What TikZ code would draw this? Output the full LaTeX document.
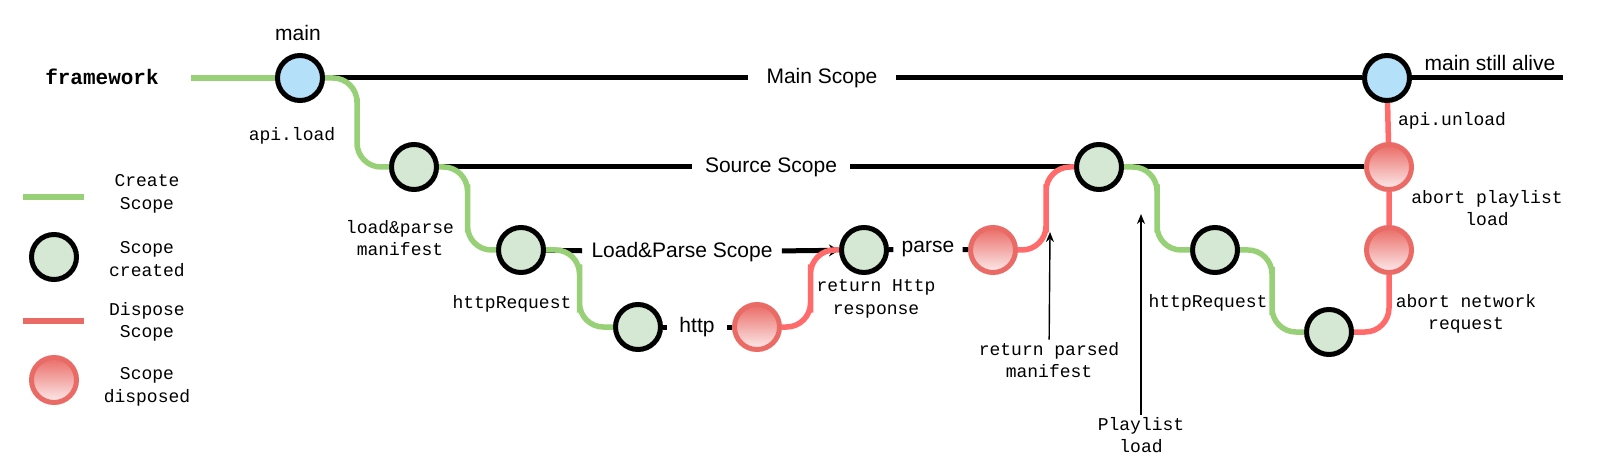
\documentclass[tikz,border=0pt]{standalone}
\usepackage{fontspec}
\setsansfont{Liberation Sans}
\setmonofont{Liberation Mono}
\usetikzlibrary{arrows.meta,calc}

\definecolor{mainblue}{HTML}{B5E0FA}
\definecolor{scopegreen}{HTML}{D5E8D4}
\definecolor{creategreen}{HTML}{97D077}
\definecolor{disposered}{HTML}{FF6B6B}
\definecolor{ringred}{HTML}{EA6B66}
\definecolor{fadered}{HTML}{FCECEC}

\tikzset{
  scopenode/.style={circle, draw=black, line width=2.5pt, minimum size=22.5pt, inner sep=0pt},
  mainnode/.style={scopenode, fill=mainblue},
  childnode/.style={scopenode, fill=scopegreen},
  disposednode/.style={circle, draw=ringred, line width=2.5pt, minimum size=22.5pt, inner sep=0pt,
    top color=ringred, bottom color=fadered},
  scopeline/.style={line width=2.5pt, black},
  createline/.style={line width=2.75pt, creategreen, rounded corners=12pt},
  disposeline/.style={line width=2.75pt, disposered, rounded corners=12pt},
  pointer/.style={line width=0.7pt, -{Stealth[length=5pt,width=4pt]}},
  scopelabel/.style={font=\sffamily\fontsize{10.5}{12.5}\selectfont, inner xsep=4.5pt},
  codelabel/.style={font=\ttfamily\fontsize{9}{11.3}\selectfont, align=center, inner sep=1pt}
}

\begin{document}
\begin{tikzpicture}[x=0.5pt, y=-0.5pt]
\useasboundingbox (0,0) rectangle (1600,470);

% scope nodes
\node[mainnode] (main) at (300,78) {};
\node[mainnode] (main2) at (1387,78) {};
\node[childnode] (src1) at (414,167) {};
\node[childnode] (src2) at (1099,167) {};
\node[childnode] (lp1) at (521,250) {};
\node[childnode] (lp2) at (864,250) {};
\node[childnode] (req1) at (638,327) {};
\node[childnode] (pl1) at (1215,250) {};
\node[childnode] (pl2) at (1329,332) {};
\node[disposednode] (httpdone) at (757,327) {};
\node[disposednode] (parsedone) at (993,250) {};
\node[disposednode] (abortpl) at (1389,167) {};
\node[disposednode] (abortreq) at (1389,250) {};

% scope lines
\node[font=\ttfamily\bfseries\fontsize{10.5}{12}\selectfont] (framework) at (102,77) {framework};
\coordinate (fwstart) at (191,78);
\draw[line width=2.75pt, creategreen] (fwstart) -- (main);
\node[scopelabel, inner xsep=9pt] (mainscope) at (822,78) {Main Scope};
\draw[scopeline] (main) -- (mainscope) -- (main2);
\coordinate (mainend) at (1563,78);
\draw[scopeline] (main2) -- (mainend);
\node[scopelabel] (mainname) at (298,33) {main};
\node[scopelabel] (stillalive) at (1490,63) {main still alive};

\node[scopelabel, inner xsep=6.5pt] (srcscope) at (771,167) {Source Scope};
\draw[scopeline] (src1) -- (srcscope) -- (src2) -- (abortpl);

\node[scopelabel] (lpscope) at (682,252) {Load\&Parse Scope};
\draw[scopeline] (lp1) -- (lpscope);
\draw[scopeline, -{Stealth[length=5pt,width=6pt]}] (lpscope) -- (lp2);

\node[scopelabel, inner xsep=6pt] (httplbl) at (697,327) {http};
\draw[scopeline] (req1) -- (httplbl) -- (httpdone);
\node[scopelabel, inner xsep=4pt] (parselbl) at (928,249) {parse};
\draw[scopeline] (lp2) -- (parselbl) -- (parsedone);

% create
\draw[createline] (main) -| ($(main)!.5!(src1)$) |- (src1);
\draw[createline] (src1) -| ($(src1)!.5!(lp1)$) |- (lp1);
\draw[createline] (lp1) -| ($(lp1)!.5!(req1)$) |- (req1);
\draw[createline] (src2) -| ($(src2)!.5!(pl1)$) |- (pl1);
\draw[createline] (pl1) -| ($(pl1)!.5!(pl2)$) |- (pl2);

% dispose
\draw[disposeline] (httpdone) -| ($(httpdone)!.5!(lp2)$) |- (lp2);
\draw[disposeline] (parsedone) -| ($(parsedone)!.5!(src2)$) |- (src2);
\draw[disposeline] (main2) -- (abortpl) -- (abortreq);
\draw[disposeline] (pl2) -| (abortreq);

% labels
\node[codelabel] (apiload) at (292,136) {api.load};
\node[codelabel] (lpmanifest) at (400,238) {load\&parse\\manifest};
\node[codelabel] (httpreq1) at (512,304) {httpRequest};
\node[codelabel] (httpresp) at (876,299) {return Http\\response};
\node[codelabel] (httpreq2) at (1208,303) {httpRequest};
\node[codelabel] (apiunload) at (1452,121) {api.unload};
\node[codelabel] (abortpllbl) at (1487,208) {abort playlist\\load};
\node[codelabel] (abortreqlbl) at (1466,314) {abort network\\request};

\node[codelabel] (retparsed) at (1049,360) {return parsed\\manifest};
\coordinate (retparsedtip) at (1050,232);
\draw[pointer] (retparsed) -- (retparsedtip);
\node[codelabel] (plload) at (1141,435) {Playlist\\load};
\coordinate (plloadtip) at (1141,214);
\draw[pointer] (plload) -- (plloadtip);

% legend
\draw[line width=3pt, creategreen] (23,197) -- (84,197);
\node[codelabel] (legcreate) at (147,194) {Create\\Scope};
\node[childnode] (legcreated) at (54,257) {};
\node[codelabel] (legcreatedlbl) at (147,259) {Scope\\created};
\draw[line width=3pt, ringred] (23,321) -- (84,321);
\node[codelabel] (legdispose) at (147,322) {Dispose\\Scope};
\node[disposednode] (legdisposed) at (54,380) {};
\node[codelabel] (legdisposedlbl) at (147,387) {Scope\\disposed};
\end{tikzpicture}
\end{document}
